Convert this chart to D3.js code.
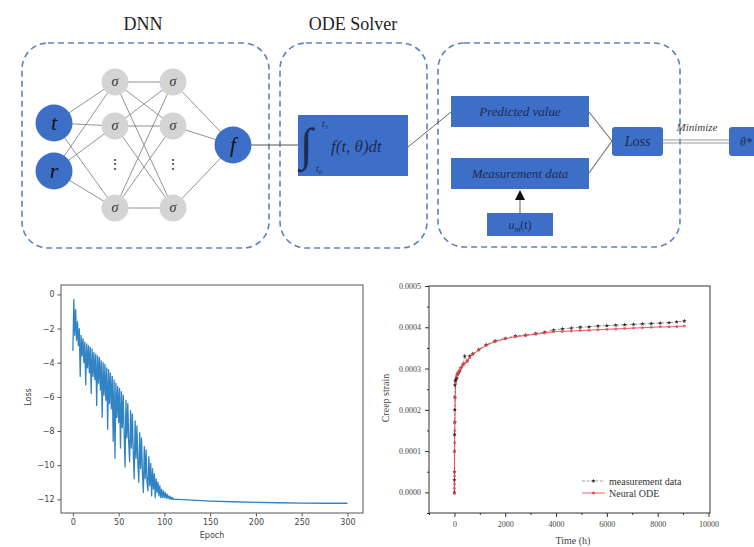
<!DOCTYPE html>
<html>
<head>
<meta charset="utf-8">
<script src="https://cdn.jsdelivr.net/npm/d3@7"></script>
<style>
  body { margin: 0; background: #fff; }
  svg { display: block; }
</style>
</head>
<body>
<div id="fig"></div>
<script>
// ---- data: loss curve (left plot) ----
var lossEpoch = [];
for (var i = 0; i <= 110; i++) lossEpoch.push(i);
lossEpoch = lossEpoch.concat([115, 120, 130, 140, 150, 175, 200, 225, 250, 275, 300]);
var lossValue = [
  -3.3, -0.3, -2.4, -0.9, -2.7, -1.6, -3.0, -2.0, -4.8, -2.4,
  -3.6, -2.6, -4.0, -2.8, -5.3, -2.9, -4.3, -3.0, -4.6, -3.1,
  -5.8, -3.2, -4.8, -3.4, -5.0, -3.5, -6.5, -3.6, -5.2, -3.7,
  -5.6, -3.9, -7.2, -4.0, -5.9, -4.1, -6.2, -4.3, -7.9, -4.4,
  -6.4, -4.6, -6.7, -4.8, -8.6, -5.0, -9.6, -5.2, -7.2, -5.4,
  -7.5, -5.5, -9.0, -5.7, -7.8, -5.9, -8.1, -10.1, -6.2, -8.4,
  -6.4, -8.7, -9.8, -6.8, -9.0, -7.0, -9.3, -10.8, -7.4, -9.6,
  -7.7, -9.9, -11.0, -8.1, -10.2, -8.4, -10.5, -11.6, -8.9, -10.8,
  -9.1, -11.0, -11.5, -9.5, -11.2, -9.9, -11.8, -10.2, -11.4, -10.5,
  -11.9, -10.8, -11.6, -11.0, -11.8, -11.2, -11.9, -11.4, -11.9, -11.5,
  -11.9, -11.6, -11.95, -11.7, -11.95, -11.8, -12.0, -11.85, -12.0, -11.9,
  -12.0,
  -12.0, -12.02, -12.05, -12.08, -12.1, -12.14, -12.18, -12.2, -12.22, -12.23, -12.23
];
var lossXTicks = [0, 50, 100, 150, 200, 250, 300];
var lossYTicks = [0, -2, -4, -6, -8, -10, -12];

// ---- data: creep strain (right plot) ----
var creepTime = [0, 1, 2, 4, 6, 8, 12, 16, 24, 36, 48, 72, 96, 120, 168, 216, 264, 336, 408, 504,
  600, 720, 960, 1250, 1600, 2000, 2400, 2800, 3200, 3550, 3900, 4250, 4600, 4950, 5300, 5650,
  6000, 6350, 6700, 7050, 7400, 7750, 8100, 8450, 8750, 9050];
var measStrain = [0.0000, 0.00003, 0.00005, 0.00010, 0.00014, 0.00017, 0.00020, 0.00023, 0.00026, 0.00027,
  0.000272, 0.000275, 0.000278, 0.000285, 0.000290, 0.000295, 0.000302, 0.000310, 0.000330, 0.000318,
  0.000330, 0.000336, 0.000346, 0.000358, 0.000367, 0.000373, 0.000379, 0.000381, 0.000385, 0.000388,
  0.000393, 0.000396, 0.000398, 0.000400, 0.000401, 0.000403, 0.000404, 0.000405, 0.000406, 0.000407,
  0.000408, 0.000409, 0.000410, 0.000411, 0.000413, 0.000415];
var odeStrain = [-0.000003, 0.00001, 0.00002, 0.00004, 0.00005, 0.00010, 0.00012, 0.00015, 0.00017, 0.00023,
  0.000265, 0.000280, 0.000285, 0.000290, 0.000293, 0.000297, 0.000303, 0.000308, 0.000313, 0.000318,
  0.000327, 0.000334, 0.000345, 0.000356, 0.000365, 0.000372, 0.000377, 0.000380, 0.000383, 0.000386,
  0.000389, 0.000390, 0.000391, 0.000392, 0.000393, 0.000394, 0.000395, 0.000396, 0.000397, 0.000398,
  0.000399, 0.000400, 0.000401, 0.000401, 0.000402, 0.000403];
var creepXTicks = [0, 2000, 4000, 6000, 8000, 10000];
var creepYTicks = [0, 0.0001, 0.0002, 0.0003, 0.0004, 0.0005];
var legendLabels = ["measurement data", "Neural ODE"];

// ---- diagram ----
var hiddenRows = [0, 1, 3];   // rows with a sigma node, row 2 holds the dots
var blue = "#3e6fc7";
var ink = "#1b2b55";

var svg = d3.select("#fig").append("svg")
  .attr("width", 754)
  .attr("height", 547)
  .style("font-family", "'Liberation Serif', serif");

svg.append("rect").attr("width", 754).attr("height", 547).attr("fill", "#fff");

// ================= top diagram =================
var dg = svg.append("g");

function dashedBox(x, y, w, h) {
  dg.append("rect")
    .attr("x", x).attr("y", y).attr("width", w).attr("height", h)
    .attr("rx", 26).attr("ry", 26)
    .attr("fill", "none")
    .attr("stroke", "#5f80c4")
    .attr("stroke-width", 1.6)
    .attr("stroke-dasharray", "6,4");
}
dashedBox(22, 43, 247, 205);
dashedBox(280, 43, 147, 205);
dashedBox(438, 43, 242, 204);

dg.append("text").attr("x", 143).attr("y", 30).attr("text-anchor", "middle")
  .attr("font-size", 18).attr("fill", "#222").text("DNN");
dg.append("text").attr("x", 353).attr("y", 30).attr("text-anchor", "middle")
  .attr("font-size", 18).attr("fill", "#222").text("ODE Solver");

// network
var rowY = function (r) { return [82, 126, 164, 208][r]; };
var inputs = [{ label: "t", y: 123 }, { label: "r", y: 171 }];
var l1x = 115, l2x = 173, inx = 54, fx = 233, fy = 145;

var edges = dg.append("g").attr("stroke", "#777").attr("stroke-width", 0.8);
inputs.forEach(function (n) {
  hiddenRows.forEach(function (r) {
    edges.append("line").attr("x1", inx).attr("y1", n.y).attr("x2", l1x).attr("y2", rowY(r));
  });
});
hiddenRows.forEach(function (a) {
  hiddenRows.forEach(function (b) {
    edges.append("line").attr("x1", l1x).attr("y1", rowY(a)).attr("x2", l2x).attr("y2", rowY(b));
  });
  edges.append("line").attr("x1", l2x).attr("y1", rowY(a)).attr("x2", fx).attr("y2", fy);
});

// f to integral box
dg.append("line").attr("x1", fx).attr("y1", fy).attr("x2", 298).attr("y2", fy)
  .attr("stroke", "#555").attr("stroke-width", 1);

inputs.forEach(function (n) {
  dg.append("circle").attr("cx", inx).attr("cy", n.y).attr("r", 18.5).attr("fill", blue);
  dg.append("text").attr("x", inx).attr("y", n.y + 7).attr("text-anchor", "middle")
    .attr("font-size", 22).attr("font-style", "italic").attr("fill", "#111").text(n.label);
});
[l1x, l2x].forEach(function (x) {
  hiddenRows.forEach(function (r) {
    dg.append("circle").attr("cx", x).attr("cy", rowY(r)).attr("r", 13.5).attr("fill", "#d4d4d4");
    dg.append("text").attr("x", x).attr("y", rowY(r) + 4).attr("text-anchor", "middle")
      .attr("font-size", 14).attr("font-style", "italic").attr("fill", "#333").text("σ");
  });
  dg.append("text").attr("x", x).attr("y", rowY(2) + 5).attr("text-anchor", "middle")
    .attr("font-size", 14).attr("fill", "#333").text("⋮");
});
dg.append("circle").attr("cx", fx).attr("cy", fy).attr("r", 18.5).attr("fill", blue);
dg.append("text").attr("x", fx).attr("y", fy + 7).attr("text-anchor", "middle")
  .attr("font-size", 21).attr("font-style", "italic").attr("fill", "#111").text("f");

// integral box
dg.append("rect").attr("x", 298).attr("y", 115).attr("width", 110).attr("height", 61).attr("fill", blue);
dg.append("text").attr("x", 300).attr("y", 160).attr("font-size", 46).attr("fill", ink).text("∫");
dg.append("text").attr("x", 322).attr("y", 127).attr("font-size", 10).attr("font-style", "italic").attr("fill", ink)
  .html("t<tspan font-size='7' dy='2'>1</tspan>");
dg.append("text").attr("x", 316).attr("y", 172).attr("font-size", 10).attr("font-style", "italic").attr("fill", ink)
  .html("t<tspan font-size='7' dy='2'>0</tspan>");
dg.append("text").attr("x", 331).attr("y", 152).attr("font-size", 17).attr("font-style", "italic").attr("fill", ink)
  .text("f(t, θ)dt");

// integral to predicted
dg.append("line").attr("x1", 408).attr("y1", 147).attr("x2", 451).attr("y2", 112)
  .attr("stroke", "#666").attr("stroke-width", 1);

// third block
function blueBox(x, y, w, h, rx) {
  dg.append("rect").attr("x", x).attr("y", y).attr("width", w).attr("height", h)
    .attr("rx", rx).attr("fill", blue);
}
blueBox(451, 96, 138, 31, 0);
blueBox(451, 158, 138, 31, 0);
blueBox(487, 213, 66, 23, 0);
blueBox(612, 127, 51, 29, 3);
blueBox(729, 127, 40, 29, 3);

var lines = dg.append("g").attr("stroke", "#777").attr("stroke-width", 1.2);
lines.append("line").attr("x1", 589).attr("y1", 112).attr("x2", 612).attr("y2", 141);
lines.append("line").attr("x1", 589).attr("y1", 173).attr("x2", 612).attr("y2", 141);
lines.append("line").attr("x1", 520).attr("y1", 213).attr("x2", 520).attr("y2", 199);
dg.append("path").attr("d", "M520,190 L515,200 L525,200 Z").attr("fill", "#111");
dg.append("line").attr("x1", 663).attr("y1", 140).attr("x2", 729).attr("y2", 140)
  .attr("stroke", "#999").attr("stroke-width", 1.2);
dg.append("line").attr("x1", 663).attr("y1", 143).attr("x2", 729).attr("y2", 143)
  .attr("stroke", "#999").attr("stroke-width", 1.2);

function boxText(x, y, size, str) {
  return dg.append("text").attr("x", x).attr("y", y).attr("text-anchor", "middle")
    .attr("font-size", size).attr("font-style", "italic").attr("fill", ink).text(str);
}
boxText(520, 116, 13, "Predicted value");
boxText(520, 178, 13, "Measurement data");
boxText(637.5, 146, 14, "Loss");
boxText(746, 146, 12, "θ*");
dg.append("text").attr("x", 520).attr("y", 229).attr("text-anchor", "middle")
  .attr("font-size", 12).attr("font-style", "italic").attr("fill", ink)
  .html("u<tspan font-size='8' dy='3'>m</tspan><tspan dy='-3' font-style='normal'>(t)</tspan>");
dg.append("text").attr("x", 697).attr("y", 131).attr("text-anchor", "middle")
  .attr("font-size", 11).attr("font-style", "italic").attr("fill", "#444").text("Minimize");

// ================= left plot: loss =================
var L = { left: 61, top: 285, right: 363, bottom: 513 };
var lx = d3.scaleLinear().domain([-13, 317]).range([L.left, L.right]);
var ly = d3.scaleLinear().domain([-12.8, 0.55]).range([L.bottom, L.top]);
var lg = svg.append("g").style("font-family", "'DejaVu Sans', sans-serif");

lg.append("path")
  .datum(lossEpoch.map(function (e, i) { return [e, lossValue[i]]; }))
  .attr("fill", "none")
  .attr("stroke", "#3183c4")
  .attr("stroke-width", 1.3)
  .attr("stroke-linejoin", "round")
  .attr("d", d3.line().x(function (d) { return lx(d[0]); }).y(function (d) { return ly(d[1]); }));

lg.append("rect").attr("x", L.left).attr("y", L.top)
  .attr("width", L.right - L.left).attr("height", L.bottom - L.top)
  .attr("fill", "none").attr("stroke", "#555").attr("stroke-width", 1);

var lAxX = lg.append("g").attr("transform", "translate(0," + L.bottom + ")")
  .call(d3.axisBottom(lx).tickValues(lossXTicks).tickSize(3.5).tickPadding(3));
var lAxY = lg.append("g").attr("transform", "translate(" + L.left + ",0)")
  .call(d3.axisLeft(ly).tickValues(lossYTicks).tickSize(3.5).tickPadding(3));
[lAxX, lAxY].forEach(function (a) {
  a.select(".domain").remove();
  a.selectAll("line").attr("stroke", "#555");
  a.selectAll("text").attr("font-size", 8).attr("fill", "#444").style("font-family", "'DejaVu Sans', sans-serif");
});
lg.append("text").attr("x", 212).attr("y", 538).attr("text-anchor", "middle")
  .attr("font-size", 8).attr("fill", "#444").text("Epoch");
lg.append("text").attr("transform", "translate(31,397) rotate(-90)").attr("text-anchor", "middle")
  .attr("font-size", 8).attr("fill", "#444").text("Loss");

// ================= right plot: creep =================
var R = { left: 429, top: 286, right: 710, bottom: 513 };
var rx = d3.scaleLinear().domain([-1000, 10060]).range([R.left, R.right]);
var ry = d3.scaleLinear().domain([-0.00005, 0.0005]).range([R.bottom, R.top]);
var rg = svg.append("g");

var line = d3.line().x(function (d) { return rx(d[0]); }).y(function (d) { return ry(d[1]); });
var measPts = creepTime.map(function (t, i) { return [t, measStrain[i]]; });
var odePts = creepTime.map(function (t, i) { return [t, odeStrain[i]]; });

rg.append("path").datum(measPts).attr("fill", "none").attr("stroke", "#666")
  .attr("stroke-width", 0.7).attr("stroke-dasharray", "3,1.5").attr("d", line);
rg.append("path").datum(odePts).attr("fill", "none").attr("stroke", "#e8333a")
  .attr("stroke-width", 0.8).attr("d", line);

var star = d3.symbol().type(d3.symbolStar).size(6);
rg.selectAll(".meas").data(measPts).enter().append("path")
  .attr("class", "meas")
  .attr("transform", function (d) { return "translate(" + rx(d[0]) + "," + ry(d[1]) + ")"; })
  .attr("d", star).attr("fill", "#222");
rg.selectAll(".ode").data(odePts).enter().append("circle")
  .attr("class", "ode")
  .attr("cx", function (d) { return rx(d[0]); })
  .attr("cy", function (d) { return ry(d[1]); })
  .attr("r", 1.5).attr("fill", "#f04a50").attr("fill-opacity", 0.8);

rg.append("rect").attr("x", R.left).attr("y", R.top)
  .attr("width", R.right - R.left).attr("height", R.bottom - R.top)
  .attr("fill", "none").attr("stroke", "#333").attr("stroke-width", 1);

var rAxX = rg.append("g").attr("transform", "translate(0," + R.bottom + ")")
  .call(d3.axisBottom(rx).tickValues(creepXTicks).tickSize(4).tickPadding(4)
    .tickFormat(d3.format("d")));
var rAxY = rg.append("g").attr("transform", "translate(" + R.left + ",0)")
  .call(d3.axisLeft(ry).tickValues(creepYTicks).tickSize(4).tickPadding(4)
    .tickFormat(d3.format(".4f")));
// minor ticks
rg.append("g").attr("transform", "translate(0," + R.bottom + ")")
  .call(d3.axisBottom(rx).tickValues([-1000, 1000, 3000, 5000, 7000, 9000]).tickSize(2).tickFormat(""))
  .select(".domain").remove();
rg.append("g").attr("transform", "translate(" + R.left + ",0)")
  .call(d3.axisLeft(ry).tickValues([-0.00005, 0.00005, 0.00015, 0.00025, 0.00035, 0.00045]).tickSize(2).tickFormat(""))
  .select(".domain").remove();
[rAxX, rAxY].forEach(function (a) {
  a.select(".domain").remove();
  a.selectAll("text").attr("font-size", 8).attr("fill", "#444").style("font-family", "'Liberation Serif', serif");
});
rg.selectAll("line").filter(function () { return this.parentNode.classList.contains("tick"); })
  .attr("stroke", "#333");

rg.append("text").attr("x", 573).attr("y", 544).attr("text-anchor", "middle")
  .attr("font-size", 10).attr("fill", "#444").text("Time (h)");
rg.append("text").attr("transform", "translate(389,398) rotate(-90)").attr("text-anchor", "middle")
  .attr("font-size", 10).attr("fill", "#444").text("Creep strain");

// legend
var legY = [481, 493];
legendLabels.forEach(function (lab, i) {
  var g = rg.append("g").attr("transform", "translate(582," + legY[i] + ")");
  g.append("line").attr("x1", 0).attr("x2", 23)
    .attr("stroke", i === 0 ? "#888" : "#e8333a").attr("stroke-width", 0.8)
    .attr("stroke-dasharray", i === 0 ? "3,1.5" : null);
  if (i === 0) g.append("path").attr("transform", "translate(11.5,0)").attr("d", star).attr("fill", "#222");
  else g.append("circle").attr("cx", 11.5).attr("r", 1.5).attr("fill", "#f04a50");
  g.append("text").attr("x", 27).attr("y", 3.5).attr("font-size", 10).attr("fill", "#333").text(lab);
});
</script>
</body>
</html>
